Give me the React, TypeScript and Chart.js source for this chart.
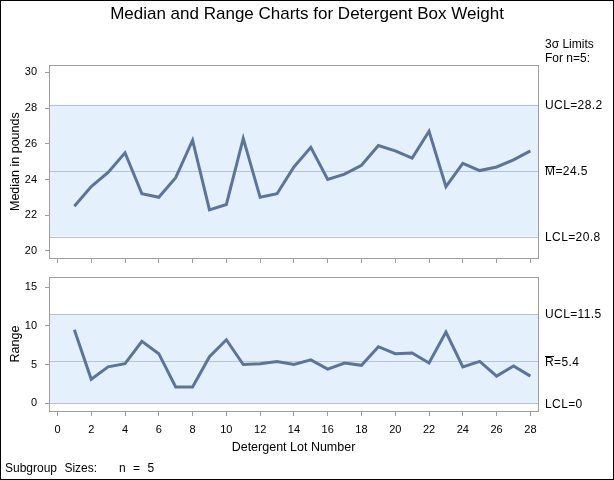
import React, { useEffect, useRef } from "react";
import { Chart, registerables } from "chart.js";

Chart.register(...registerables);

const FONT = '"Liberation Sans", Arial, Helvetica, sans-serif';

const lots = [1, 2, 3, 4, 5, 6, 7, 8, 9, 10, 11, 12, 13, 14, 15, 16, 17, 18, 19, 20, 21, 22, 23, 24, 25, 26, 27, 28];
const medians = [22.5, 23.6, 24.4, 25.5, 23.2, 23.0, 24.1, 26.2, 22.3, 22.6, 26.3, 23.0, 23.2, 24.7, 25.8, 24.0, 24.3, 24.8, 25.9, 25.6, 25.2, 26.7, 23.6, 24.9, 24.5, 24.7, 25.1, 25.6];
const ranges = [9.5, 3.1, 4.7, 5.1, 8.0, 6.4, 2.1, 2.1, 6.0, 8.2, 5.0, 5.1, 5.4, 5.0, 5.6, 4.4, 5.2, 4.9, 7.3, 6.4, 6.5, 5.2, 9.2, 4.7, 5.4, 3.5, 4.8, 3.5];
const medianTicks = [20, 22, 24, 26, 28, 30];
const rangeTicks = [0, 5, 10, 15];
const lotTicks = [0, 2, 4, 6, 8, 10, 12, 14, 16, 18, 20, 22, 24, 26, 28];
// [LCL, center, UCL]
const medianLimits = [20.8, 24.5, 28.2];
const rangeLimits = [0, 5.4, 11.5];

const LINE_COLOR = "#5c7499";
const SHADE = "#e5f0fd";
const LIMIT_LINE = "#b6c2d6";
const FRAME = "#9e9e9e";
const TICK_COLOR = "#9e9e9e";

function fixTicks(values: number[]) {
  return (s: any) => {
    s.ticks = values.map((v) => ({ value: v }));
  };
}

function fitSize(w: number | null, h: number | null) {
  return (s: any) => {
    if (w !== null) s.width = w;
    if (h !== null) s.height = h;
    s.paddingTop = 0;
    s.paddingBottom = 0;
    s.paddingLeft = 0;
    s.paddingRight = 0;
  };
}

function drawOverText(ctx: CanvasRenderingContext2D, x: number, y: number, sym: string, rest: string) {
  ctx.fillText(sym, x, y);
  const w = ctx.measureText(sym).width;
  ctx.save();
  ctx.strokeStyle = "#000";
  ctx.lineWidth = 1;
  ctx.beginPath();
  ctx.moveTo(x, Math.round(y - 6) + 0.5);
  ctx.lineTo(x + w, Math.round(y - 6) + 0.5);
  ctx.stroke();
  ctx.restore();
  ctx.fillText(rest, x + w, y);
}

function limitsPlugin(id: string, limits: number[], labels: string[], centerSym: string, extra: (ctx: CanvasRenderingContext2D) => void) {
  return {
    id,
    beforeDatasetsDraw(chart: any) {
      const { ctx, chartArea: a, scales } = chart;
      const y = scales.y;
      const [lcl, cen, ucl] = limits;
      const yU = y.getPixelForValue(ucl);
      const yL = y.getPixelForValue(lcl);
      const yC = y.getPixelForValue(cen);
      ctx.save();
      ctx.fillStyle = SHADE;
      ctx.fillRect(a.left, yU, a.right - a.left, yL - yU);
      ctx.strokeStyle = LIMIT_LINE;
      ctx.lineWidth = 1;
      for (const yy of [yU, yC, yL]) {
        const p = Math.round(yy) + 0.5;
        ctx.beginPath();
        ctx.moveTo(a.left, p);
        ctx.lineTo(a.right, p);
        ctx.stroke();
      }
      ctx.restore();
    },
    afterDraw(chart: any) {
      const { ctx, chartArea: a, scales } = chart;
      const y = scales.y;
      ctx.save();
      ctx.strokeStyle = FRAME;
      ctx.lineWidth = 1;
      ctx.strokeRect(Math.round(a.left) + 0.5, Math.round(a.top) + 0.5, Math.round(a.right - a.left), Math.round(a.bottom - a.top));
      ctx.fillStyle = "#000";
      ctx.font = `12px ${FONT}`;
      ctx.textAlign = "left";
      ctx.textBaseline = "middle";
      (ctx as any).letterSpacing = "0.4px";
      const lx = a.right + 7;
      const [lcl, cen, ucl] = limits;
      ctx.fillText(labels[0], lx, y.getPixelForValue(ucl) + 1);
      drawOverText(ctx, lx, y.getPixelForValue(cen) + 1, centerSym, labels[1]);
      ctx.fillText(labels[2], lx, y.getPixelForValue(lcl) + 1);
      (ctx as any).letterSpacing = "0px";
      extra(ctx);
      ctx.restore();
    },
  };
}

export default function App() {
  const topRef = useRef<HTMLCanvasElement | null>(null);
  const botRef = useRef<HTMLCanvasElement | null>(null);

  useEffect(() => {
    const tickFont = { family: FONT, size: 11 };
    const labelFont = { family: FONT, size: 12.5 };

    const top = new Chart(topRef.current as HTMLCanvasElement, {
      type: "line",
      data: {
        datasets: [
          {
            data: lots.map((x, i) => ({ x, y: medians[i] })),
            borderColor: LINE_COLOR,
            borderWidth: 3,
            pointRadius: 0,
            tension: 0,
            fill: false,
          },
        ],
      },
      options: {
        responsive: false,
        animation: false,
        devicePixelRatio: 1,
        layout: { padding: { left: 0, right: 0, top: 0, bottom: 0 } },
        plugins: {
          legend: { display: false },
          tooltip: { enabled: false },
          title: {
            display: true,
            text: "Median and Range Charts for Detergent Box Weight",
            color: "#000",
            font: { family: FONT, size: 17, weight: "normal", lineHeight: 1.2 },
            padding: { top: 4, bottom: 40.9 },
          },
        },
        scales: {
          x: {
            type: "linear",
            min: -0.5,
            max: 28.45,
            afterBuildTicks: fixTicks(lotTicks),
            afterFit: fitSize(null, 12),
            ticks: { display: false },
            grid: { drawOnChartArea: false, drawTicks: true, tickLength: 5, color: TICK_COLOR },
            border: { display: false },
          },
          y: {
            type: "linear",
            min: 19.6,
            max: 30.4,
            afterBuildTicks: fixTicks(medianTicks),
            afterFit: fitSize(49, null),
            ticks: { font: tickFont, color: "#000", padding: 8 },
            grid: { drawOnChartArea: false, drawTicks: true, tickLength: 4, color: TICK_COLOR },
            border: { display: false },
            title: { display: true, text: "Median in pounds", color: "#000", font: labelFont, padding: { top: 8, bottom: 0 } },
          },
          yr: {
            type: "linear",
            position: "right",
            min: 19.6,
            max: 30.4,
            afterFit: fitSize(76, null),
            ticks: { display: false },
            grid: { display: false },
            border: { display: false },
          },
        },
      } as any,
      plugins: [
        limitsPlugin("medLimits", medianLimits, [`UCL=${medianLimits[2]}`, `=${medianLimits[1]}`, `LCL=${medianLimits[0]}`], "M", (ctx) => {
          ctx.fillText("3\u03C3 Limits", 545, 45);
          ctx.fillText("For n=5:", 545, 59);
        }) as any,
      ],
    });

    const bot = new Chart(botRef.current as HTMLCanvasElement, {
      type: "line",
      data: {
        datasets: [
          {
            data: lots.map((x, i) => ({ x, y: ranges[i] })),
            borderColor: LINE_COLOR,
            borderWidth: 3,
            pointRadius: 0,
            tension: 0,
            fill: false,
          },
        ],
      },
      options: {
        responsive: false,
        animation: false,
        devicePixelRatio: 1,
        layout: { padding: { left: 0, right: 0, top: 7, bottom: 0 } },
        plugins: {
          legend: { display: false },
          tooltip: { enabled: false },
          title: { display: false },
        },
        scales: {
          x: {
            type: "linear",
            min: -0.5,
            max: 28.45,
            afterBuildTicks: fixTicks(lotTicks),
            afterFit: fitSize(null, 69),
            ticks: { font: tickFont, color: "#000", padding: 7, maxRotation: 0 },
            grid: { drawOnChartArea: false, drawTicks: true, tickLength: 5, color: TICK_COLOR },
            border: { display: true, color: FRAME },
            title: { display: true, text: "Detergent Lot Number", color: "#000", font: labelFont, padding: { top: 0, bottom: 25 } },
          },
          y: {
            type: "linear",
            min: -1,
            max: 16.3,
            afterBuildTicks: fixTicks(rangeTicks),
            afterFit: fitSize(49, null),
            ticks: { font: tickFont, color: "#000", padding: 8 },
            grid: { drawOnChartArea: false, drawTicks: true, tickLength: 4, color: TICK_COLOR },
            border: { display: false },
            title: { display: true, text: "Range", color: "#000", font: labelFont, padding: { top: 8, bottom: 0 } },
          },
          yr: {
            type: "linear",
            position: "right",
            min: -1,
            max: 16.3,
            afterFit: fitSize(76, null),
            ticks: { display: false },
            grid: { display: false },
            border: { display: false },
          },
        },
      } as any,
      plugins: [
        limitsPlugin("rangeLimits", rangeLimits, [`UCL=${rangeLimits[2]}`, `=${rangeLimits[1]}`, `LCL=${rangeLimits[0]}`], "R", (ctx) => {
          (ctx as any).wordSpacing = "4px";
          ctx.fillText("Subgroup Sizes:   n = 5", 5, 199);
          (ctx as any).wordSpacing = "0px";
        }) as any,
      ],
    });

    return () => {
      top.destroy();
      bot.destroy();
    };
  }, []);

  return (
    <div style={{ position: "absolute", left: 0, top: 0, width: 614, height: 480, background: "#fff", overflow: "hidden" }}>
      <canvas ref={topRef} width={614} height={270} style={{ position: "absolute", left: 0, top: 0, width: 614, height: 270 }} />
      <canvas ref={botRef} width={614} height={210} style={{ position: "absolute", left: 0, top: 270, width: 614, height: 210 }} />
      <div
        style={{
          position: "absolute",
          left: 0,
          top: 0,
          width: 614,
          height: 480,
          border: "1px solid #000",
          boxSizing: "border-box",
          pointerEvents: "none",
        }}
      />
    </div>
  );
}
